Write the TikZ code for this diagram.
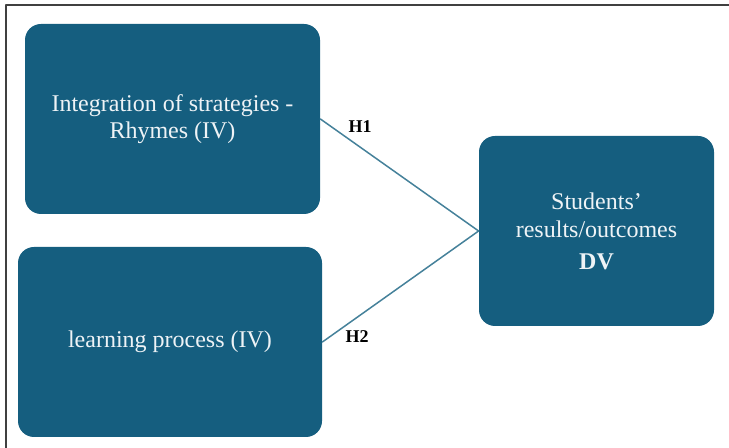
\documentclass[tikz,border=0pt]{standalone}
\usepackage{fontspec}
\setmainfont{Liberation Serif}
\definecolor{boxblue}{HTML}{155E7F}
\definecolor{linkblue}{HTML}{45819A}
\definecolor{boxtext}{HTML}{EEF3F6}
\begin{document}
\begin{tikzpicture}[x=0.5pt, y=-0.5pt, font=\fontsize{12}{13.5}\selectfont, line join=round, line cap=round,
		var/.style={fill=boxblue, rounded corners=8pt, text=boxtext, align=center, minimum height=95pt, inner sep=0pt},
		hyp/.style={font=\fontsize{9}{10}\selectfont\bfseries}]
			\useasboundingbox (0,0) rectangle (729,448);
			%frame
			\draw[black!75, line width=1pt] (6,448)--(6,5)--(729,5);
			\node[var, minimum width=147.5pt] (iv1) at (172.5,119) {Integration of strategies -\\Rhymes (IV)};
			\node[var, minimum width=152pt] (iv2) at (170,342) {learning process (IV)};
			\node[var, minimum width=117.5pt, font=\fontsize{12}{14}\selectfont] (dv) at (596.5,231) {Students’\\results/outcomes\\[2pt]\textbf{DV}};
			\draw[linkblue, line width=0.75pt] (iv1.east)--(dv.west)--(iv2.east);
			\node[hyp] (h1) at (360,127) {H1};
			\node[hyp] (h2) at (357,337) {H2};
		\end{tikzpicture}
\end{document}
